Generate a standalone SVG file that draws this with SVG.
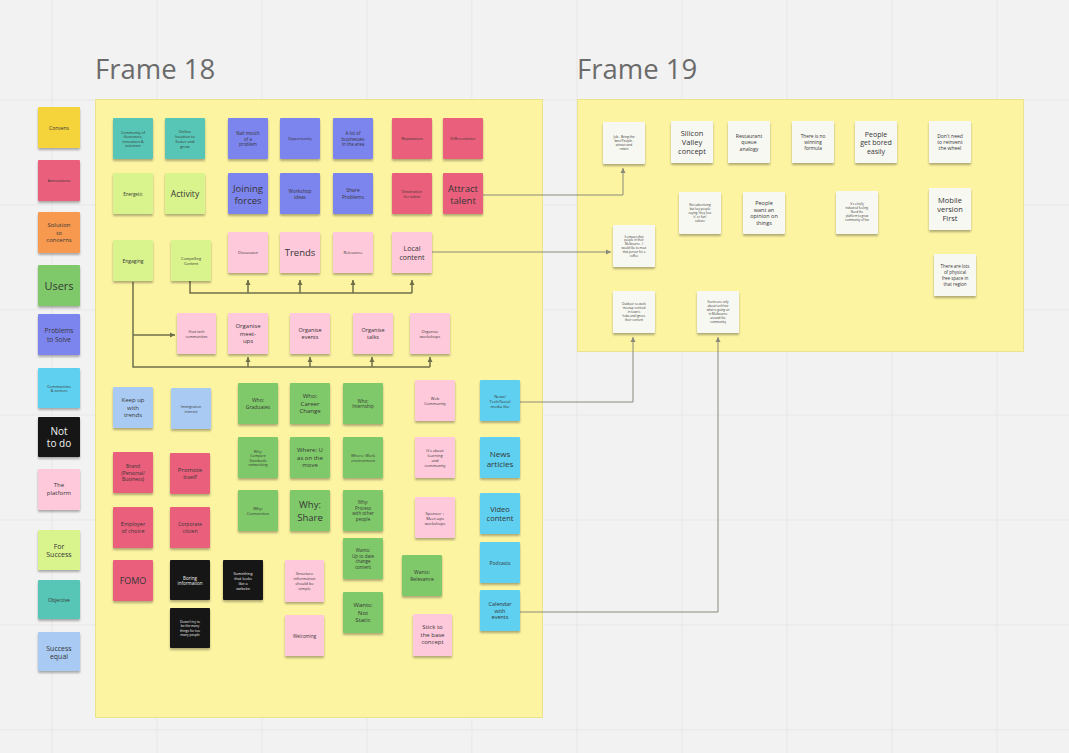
<svg xmlns="http://www.w3.org/2000/svg" width="1069" height="753" viewBox="0 0 1069 753">
<defs>
<filter id="sh" x="-20%" y="-20%" width="140%" height="150%"><feDropShadow dx="0" dy="2" stdDeviation="1.2" flood-color="#000" flood-opacity="0.3"/></filter>
<marker id="ah" markerWidth="6" markerHeight="6" refX="5" refY="3" orient="auto" markerUnits="userSpaceOnUse"><path d="M0,0.5 L5,3 L0,5.5 Z" fill="#6f6f4a"/></marker>
<marker id="ag" markerWidth="6" markerHeight="6" refX="5" refY="3" orient="auto" markerUnits="userSpaceOnUse"><path d="M0,0.5 L5,3 L0,5.5 Z" fill="#8a8a7a"/></marker>
</defs>
<style>
.n{filter:url(#sh);rx:1}
.y{fill:#f5d33a}.r{fill:#ea5e7b}.o{fill:#f79a4f}.g{fill:#80c96a}.b{fill:#7c84ee}.c{fill:#5fd0f0}.k{fill:#151515}.p{fill:#ffc9dc}.l{fill:#d9f38d}.t{fill:#58c6b6}.lb{fill:#a9cbf3}.w{fill:#f8f8f3}
text{font-family:"Open Sans","Liberation Sans",sans-serif;fill:#353535;text-anchor:middle;dominant-baseline:central}
.wt{fill:#f2f2f2}
.title{font-size:27.5px;fill:#6b6b6b;text-anchor:start;dominant-baseline:alphabetic}
.frame{fill:#fcf4a1;stroke:#ece38f;stroke-width:1}
.grid{stroke:#e7e7e7;stroke-width:1}
.cn{fill:none;stroke:#6f6f4a;stroke-width:1.5}
.cg{fill:none;stroke:#8a8a7a;stroke-width:1}
</style>
<rect width="1069" height="753" fill="#f2f2f2"/>
<g id="grid" class="grid">
<line x1="52" y1="0" x2="52" y2="753"/><line x1="157" y1="0" x2="157" y2="753"/><line x1="262" y1="0" x2="262" y2="753"/><line x1="367" y1="0" x2="367" y2="753"/><line x1="472" y1="0" x2="472" y2="753"/><line x1="577" y1="0" x2="577" y2="753"/><line x1="682" y1="0" x2="682" y2="753"/><line x1="787" y1="0" x2="787" y2="753"/><line x1="892" y1="0" x2="892" y2="753"/><line x1="997" y1="0" x2="997" y2="753"/>
<line x1="0" y1="100" x2="1069" y2="100"/><line x1="0" y1="205" x2="1069" y2="205"/><line x1="0" y1="310" x2="1069" y2="310"/><line x1="0" y1="415" x2="1069" y2="415"/><line x1="0" y1="520" x2="1069" y2="520"/><line x1="0" y1="625" x2="1069" y2="625"/><line x1="0" y1="730" x2="1069" y2="730"/>
</g>
<g id="frame18"><text class="title" x="95" y="79">Frame 18</text><rect class="frame" x="95.5" y="99.5" width="447" height="618"/></g>
<g id="frame19"><text class="title" x="577" y="79">Frame 19</text><rect class="frame" x="577.5" y="99.5" width="446" height="252"/></g>

<g id="legend">
<g id="l1"><rect class="n y" x="38" y="107" width="42" height="41"/><text x="59" y="127.5" font-size="5">Consens</text></g>
<g id="l2"><rect class="n r" x="38" y="160" width="42" height="41"/><text x="59" y="180" font-size="4">Annotations</text></g>
<g id="l3"><rect class="n o" x="38" y="212" width="42" height="41"/><text x="59" y="225" font-size="6"><tspan x="59">Solution</tspan><tspan x="59" dy="7.5">to</tspan><tspan x="59" dy="7.5">concerns</tspan></text></g>
<g id="l4"><rect class="n g" x="38" y="265" width="42" height="41"/><text x="59" y="285" font-size="11">Users</text></g>
<g id="l5"><rect class="n b" x="38" y="314" width="42" height="41"/><text x="59" y="330.4" font-size="6.5"><tspan x="59">Problems</tspan><tspan x="59" dy="8.1">to Solve</tspan></text></g>
<g id="l6"><rect class="n c" x="38" y="368" width="42" height="40"/><text x="59" y="385.6" font-size="3.8"><tspan x="59">Communities</tspan><tspan x="59" dy="4.8">&amp; sectors</tspan></text></g>
<g id="l7"><rect class="n k" x="38" y="417" width="42" height="40"/><text class="wt" x="59" y="431" font-size="10"><tspan x="59">Not</tspan><tspan x="59" dy="12">to do</tspan></text></g>
<g id="l8"><rect class="n p" x="38" y="469" width="42" height="41"/><text x="59" y="485.2" font-size="6"><tspan x="59">The</tspan><tspan x="59" dy="7.5">platform</tspan></text></g>
<g id="l9"><rect class="n l" x="38" y="530" width="42" height="40"/><text x="59" y="545.6" font-size="7"><tspan x="59">For</tspan><tspan x="59" dy="8.7">Success</tspan></text></g>
<g id="l10"><rect class="n t" x="38" y="580" width="42" height="39"/><text x="59" y="600" font-size="5">Objective</text></g>
<g id="l11"><rect class="n lb" x="38" y="632" width="42" height="39"/><text x="59" y="647.6" font-size="7"><tspan x="59">Success</tspan><tspan x="59" dy="8.7">equal</tspan></text></g>
</g>

<g id="connectors">
<path class="cn" d="M190,281 V293 H412"/>
<path class="cn" d="M248,293 V280" marker-end="url(#ah)"/>
<path class="cn" d="M300,293 V280" marker-end="url(#ah)"/>
<path class="cn" d="M353,293 V280" marker-end="url(#ah)"/>
<path class="cn" d="M412,293 V280" marker-end="url(#ah)"/>
<path class="cn" d="M133,282 V367 H430"/>
<path class="cn" d="M133,335 H175" marker-end="url(#ah)"/>
<path class="cn" d="M248,367 V357" marker-end="url(#ah)"/>
<path class="cn" d="M310,367 V357" marker-end="url(#ah)"/>
<path class="cn" d="M372,367 V357" marker-end="url(#ah)"/>
<path class="cn" d="M430,367 V357" marker-end="url(#ah)"/>
<path class="cg" d="M483,195 H623 V168" marker-end="url(#ag)"/>
<path class="cg" d="M432,252 H611" marker-end="url(#ag)"/>
<path class="cg" d="M520,402 H633 V337" marker-end="url(#ag)"/>
<path class="cg" d="M520,612 H718 V337" marker-end="url(#ag)"/>
</g>

<g id="f18-row1">
<g id="n1"><rect class="n t" x="113" y="118" width="40" height="41"/><text x="133" y="131.6" font-size="3.6"><tspan x="133">Community of</tspan><tspan x="133" dy="4.6">illustrators,</tspan><tspan x="133" dy="4.6">innovators &amp;</tspan><tspan x="133" dy="4.6">volunteer</tspan></text></g>
<g id="n2"><rect class="n t" x="165" y="118" width="40" height="41"/><text x="185" y="131" font-size="4"><tspan x="185">Online</tspan><tspan x="185" dy="5">location to</tspan><tspan x="185" dy="5">foster and</tspan><tspan x="185" dy="5">grow</tspan></text></g>
<g id="n3"><rect class="n b" x="228" y="118" width="40" height="41"/><text x="248" y="132.9" font-size="4.5"><tspan x="248">Nail mouth</tspan><tspan x="248" dy="5.6">of a</tspan><tspan x="248" dy="5.6">problem</tspan></text></g>
<g id="n4"><rect class="n b" x="280" y="118" width="40" height="41"/><text x="300" y="138.5" font-size="4.2">Opportunity</text></g>
<g id="n5"><rect class="n b" x="333" y="118" width="40" height="41"/><text x="353" y="132.9" font-size="4.5"><tspan x="353">A lot of</tspan><tspan x="353" dy="5.6">businesses</tspan><tspan x="353" dy="5.6">in the area</tspan></text></g>
<g id="n6"><rect class="n r" x="392" y="118" width="40" height="41"/><text x="412" y="138.5" font-size="4.2">Reputation</text></g>
<g id="n7"><rect class="n r" x="443" y="118" width="40" height="41"/><text x="463" y="138.5" font-size="4">Differentiator</text></g>
</g>

<g id="f18-row2">
<g id="n8"><rect class="n l" x="113" y="173" width="40" height="41"/><text x="133" y="193.5" font-size="4.5">Energetic</text></g>
<g id="n9"><rect class="n l" x="165" y="173" width="40" height="41"/><text x="185" y="193.5" font-size="8.5">Activity</text></g>
<g id="n10"><rect class="n b" x="228" y="173" width="40" height="41"/><text x="248" y="187.5" font-size="9.5"><tspan x="248">Joining</tspan><tspan x="248" dy="12">forces</tspan></text></g>
<g id="n11"><rect class="n b" x="280" y="173" width="40" height="41"/><text x="300" y="190.5" font-size="4.8"><tspan x="300">Workshop</tspan><tspan x="300" dy="6">ideas</tspan></text></g>
<g id="n12"><rect class="n b" x="333" y="173" width="40" height="41"/><text x="353" y="190.4" font-size="5"><tspan x="353">Share</tspan><tspan x="353" dy="6.2">Problems</tspan></text></g>
<g id="n13"><rect class="n r" x="392" y="173" width="40" height="41"/><text x="412" y="191.1" font-size="3.8"><tspan x="412">Destination</tspan><tspan x="412" dy="4.8">for talent</tspan></text></g>
<g id="n14"><rect class="n r" x="443" y="173" width="40" height="41"/><text x="463" y="187.5" font-size="9.5"><tspan x="463">Attract</tspan><tspan x="463" dy="12">talent</tspan></text></g>
</g>

<g id="f18-row3">
<g id="n15"><rect class="n l" x="113" y="240" width="40" height="41"/><text x="133" y="260.5" font-size="5">Engaging</text></g>
<g id="n16"><rect class="n l" x="171" y="240" width="40" height="41"/><text x="191" y="258.1" font-size="3.8"><tspan x="191">Compelling</tspan><tspan x="191" dy="4.8">Content</tspan></text></g>
<g id="n17"><rect class="n p" x="228" y="232" width="40" height="41"/><text x="248" y="252.5" font-size="4">Discussion</text></g>
<g id="n18"><rect class="n p" x="280" y="232" width="40" height="41"/><text x="300" y="252.5" font-size="9.5">Trends</text></g>
<g id="n19"><rect class="n p" x="333" y="232" width="40" height="41"/><text x="353" y="252.5" font-size="4">Relevance</text></g>
<g id="n20"><rect class="n p" x="392" y="232" width="40" height="41"/><text x="412" y="248.2" font-size="7"><tspan x="412">Local</tspan><tspan x="412" dy="8.5">content</tspan></text></g>
</g>

<g id="f18-row4">
<g id="n21"><rect class="n p" x="177" y="313" width="39" height="41"/><text x="196.5" y="331.2" font-size="3.6"><tspan x="196.5">Host tech</tspan><tspan x="196.5" dy="4.6">communities</tspan></text></g>
<g id="n22"><rect class="n p" x="228" y="313" width="40" height="41"/><text x="248" y="326.1" font-size="6"><tspan x="248">Organise</tspan><tspan x="248" dy="7.4">meet-</tspan><tspan x="248" dy="7.4">ups</tspan></text></g>
<g id="n23"><rect class="n p" x="290" y="313" width="40" height="41"/><text x="310" y="330.1" font-size="5.5"><tspan x="310">Organise</tspan><tspan x="310" dy="6.8">events</tspan></text></g>
<g id="n24"><rect class="n p" x="353" y="313" width="40" height="41"/><text x="373" y="330.1" font-size="5.5"><tspan x="373">Organise</tspan><tspan x="373" dy="6.8">talks</tspan></text></g>
<g id="n25"><rect class="n p" x="410" y="313" width="40" height="41"/><text x="430" y="331" font-size="4"><tspan x="430">Organise</tspan><tspan x="430" dy="5">workshops</tspan></text></g>
</g>

<g id="f18-lower-left">
<g id="n26"><rect class="n lb" x="113" y="387" width="40" height="41"/><text x="133" y="400.1" font-size="6"><tspan x="133">Keep up</tspan><tspan x="133" dy="7.4">with</tspan><tspan x="133" dy="7.4">trends</tspan></text></g>
<g id="n27"><rect class="n lb" x="171" y="388" width="40" height="41"/><text x="191" y="406.2" font-size="3.6"><tspan x="191">Immigration</tspan><tspan x="191" dy="4.6">interest</tspan></text></g>
<g id="n28"><rect class="n r" x="113" y="452" width="40" height="41"/><text x="133" y="466.3" font-size="5"><tspan x="133">Brand</tspan><tspan x="133" dy="6.2">(Personal/</tspan><tspan x="133" dy="6.2">Business)</tspan></text></g>
<g id="n29"><rect class="n r" x="170" y="453" width="40" height="41"/><text x="190" y="469.8" font-size="6"><tspan x="190">Promote</tspan><tspan x="190" dy="7.4">itself</tspan></text></g>
<g id="n30"><rect class="n r" x="113" y="507" width="40" height="41"/><text x="133" y="524.1" font-size="5.5"><tspan x="133">Employer</tspan><tspan x="133" dy="6.8">of choice</tspan></text></g>
<g id="n31"><rect class="n r" x="170" y="507" width="40" height="41"/><text x="190" y="524.4" font-size="5"><tspan x="190">Corporate</tspan><tspan x="190" dy="6.2">citizen</tspan></text></g>
<g id="n32"><rect class="n r" x="113" y="560" width="40" height="41"/><text x="133" y="580.5" font-size="9">FOMO</text></g>
<g id="n33"><rect class="n k" x="170" y="560" width="40" height="40"/><text class="wt" x="190" y="577.7" font-size="4.5"><tspan x="190">Boring</tspan><tspan x="190" dy="5.6">information</tspan></text></g>
<g id="n34"><rect class="n k" x="223" y="560" width="40" height="40"/><text class="wt" x="243" y="573.3" font-size="3.8"><tspan x="243">Something</tspan><tspan x="243" dy="4.8">that looks</tspan><tspan x="243" dy="4.8">like a</tspan><tspan x="243" dy="4.8">website</tspan></text></g>
<g id="n35"><rect class="n k" x="170" y="608" width="40" height="40"/><text class="wt" x="190" y="622.2" font-size="3.2"><tspan x="190">Doesn't try to</tspan><tspan x="190" dy="4.2">be the many</tspan><tspan x="190" dy="4.2">things for too</tspan><tspan x="190" dy="4.2">many people</tspan></text></g>
</g>

<g id="f18-users">
<g id="n36"><rect class="n g" x="238" y="383" width="40" height="41"/><text x="258" y="400.4" font-size="5"><tspan x="258">Who:</tspan><tspan x="258" dy="6.2">Graduates</tspan></text></g>
<g id="n37"><rect class="n g" x="290" y="383" width="40" height="41"/><text x="310" y="396.1" font-size="6"><tspan x="310">Who:</tspan><tspan x="310" dy="7.4">Career</tspan><tspan x="310" dy="7.4">Change</tspan></text></g>
<g id="n38"><rect class="n g" x="343" y="383" width="40" height="41"/><text x="363" y="400.7" font-size="4.5"><tspan x="363">Who:</tspan><tspan x="363" dy="5.6">Internship</tspan></text></g>
<g id="n39"><rect class="n g" x="238" y="437" width="40" height="41"/><text x="258" y="450.6" font-size="3.6"><tspan x="258">Why:</tspan><tspan x="258" dy="4.6">Compare</tspan><tspan x="258" dy="4.6">Standards</tspan><tspan x="258" dy="4.6">networking</tspan></text></g>
<g id="n40"><rect class="n g" x="290" y="437" width="40" height="41"/><text x="310" y="450.1" font-size="6"><tspan x="310">Where: U</tspan><tspan x="310" dy="7.4">as on the</tspan><tspan x="310" dy="7.4">move</tspan></text></g>
<g id="n41"><rect class="n g" x="343" y="437" width="40" height="41"/><text x="363" y="455" font-size="4"><tspan x="363">Where: Work</tspan><tspan x="363" dy="5">environment</tspan></text></g>
<g id="n42"><rect class="n g" x="238" y="490" width="40" height="41"/><text x="258" y="507.9" font-size="4.2"><tspan x="258">Why:</tspan><tspan x="258" dy="5.2">Connection</tspan></text></g>
<g id="n43"><rect class="n g" x="290" y="490" width="40" height="41"/><text x="310" y="504.25" font-size="9.5"><tspan x="310">Why:</tspan><tspan x="310" dy="12.5">Share</tspan></text></g>
<g id="n44"><rect class="n g" x="343" y="490" width="40" height="41"/><text x="363" y="502.1" font-size="4.5"><tspan x="363">Why:</tspan><tspan x="363" dy="5.6">Process</tspan><tspan x="363" dy="5.6">with other</tspan><tspan x="363" dy="5.6">people</tspan></text></g>
<g id="n45"><rect class="n g" x="343" y="538" width="40" height="41"/><text x="363" y="550.1" font-size="4.5"><tspan x="363">Wants:</tspan><tspan x="363" dy="5.6">Up to date</tspan><tspan x="363" dy="5.6">change</tspan><tspan x="363" dy="5.6">content</tspan></text></g>
<g id="n46"><rect class="n g" x="343" y="592" width="40" height="41"/><text x="363" y="605.1" font-size="6"><tspan x="363">Wants:</tspan><tspan x="363" dy="7.4">Not</tspan><tspan x="363" dy="7.4">Static</tspan></text></g>
<g id="n47"><rect class="n g" x="402" y="555" width="40" height="41"/><text x="422" y="572.4" font-size="5"><tspan x="422">Wants:</tspan><tspan x="422" dy="6.2">Relevance</tspan></text></g>
</g>

<g id="f18-platform">
<g id="n48"><rect class="n p" x="285" y="560" width="39" height="42"/><text x="304.5" y="573" font-size="4"><tspan x="304.5">Structure</tspan><tspan x="304.5" dy="5">information</tspan><tspan x="304.5" dy="5">should be</tspan><tspan x="304.5" dy="5">simple</tspan></text></g>
<g id="n49"><rect class="n p" x="285" y="615" width="39" height="41"/><text x="304.5" y="635.5" font-size="4.5">Welcoming</text></g>
<g id="n50"><rect class="n p" x="415" y="380" width="40" height="41"/><text x="435" y="398" font-size="4"><tspan x="435">Web</tspan><tspan x="435" dy="5">Community</tspan></text></g>
<g id="n51"><rect class="n p" x="415" y="437" width="40" height="41"/><text x="435" y="450" font-size="4"><tspan x="435">It's about</tspan><tspan x="435" dy="5">learning</tspan><tspan x="435" dy="5">and</tspan><tspan x="435" dy="5">community</tspan></text></g>
<g id="n52"><rect class="n p" x="415" y="497" width="40" height="41"/><text x="435" y="512.5" font-size="4"><tspan x="435">Sponsor +</tspan><tspan x="435" dy="5">Meet-ups</tspan><tspan x="435" dy="5">workshops</tspan></text></g>
<g id="n53"><rect class="n p" x="413" y="614" width="39" height="42"/><text x="432.5" y="627.1" font-size="6"><tspan x="432.5">Stick to</tspan><tspan x="432.5" dy="7.4">the base</tspan><tspan x="432.5" dy="7.4">concept</tspan></text></g>
</g>

<g id="f18-content">
<g id="n54"><rect class="n c" x="480" y="380" width="40" height="41"/><text x="500" y="395.5" font-size="4"><tspan x="500">News/</tspan><tspan x="500" dy="5">Tech/Social</tspan><tspan x="500" dy="5">media like</tspan></text></g>
<g id="n55"><rect class="n c" x="480" y="437" width="40" height="41"/><text x="500" y="452.5" font-size="8"><tspan x="500">News</tspan><tspan x="500" dy="10">articles</tspan></text></g>
<g id="n56"><rect class="n c" x="480" y="493" width="40" height="41"/><text x="500" y="508.75" font-size="7.5"><tspan x="500">Video</tspan><tspan x="500" dy="9.5">content</tspan></text></g>
<g id="n57"><rect class="n c" x="480" y="542" width="40" height="41"/><text x="500" y="562.5" font-size="5">Podcasts</text></g>
<g id="n58"><rect class="n c" x="480" y="590" width="40" height="41"/><text x="500" y="603.7" font-size="5.5"><tspan x="500">Calendar</tspan><tspan x="500" dy="6.8">with</tspan><tspan x="500" dy="6.8">events</tspan></text></g>
</g>

<g id="f19-notes">
<g id="m1"><rect class="n w" x="603" y="122" width="42" height="42"/><text x="624" y="136.7" font-size="3.2"><tspan x="624">Job - Bring the</tspan><tspan x="624" dy="4.2">best People -</tspan><tspan x="624" dy="4.2">attract and</tspan><tspan x="624" dy="4.2">retain</tspan></text></g>
<g id="m2"><rect class="n w" x="671" y="121" width="42" height="42"/><text x="692" y="133" font-size="7.5"><tspan x="692">Silicon</tspan><tspan x="692" dy="9">Valley</tspan><tspan x="692" dy="9">concept</tspan></text></g>
<g id="m3"><rect class="n w" x="728" y="121" width="42" height="42"/><text x="749" y="135.5" font-size="5.2"><tspan x="749">Restaurant</tspan><tspan x="749" dy="6.5">queue</tspan><tspan x="749" dy="6.5">analogy</tspan></text></g>
<g id="m4"><rect class="n w" x="792" y="121" width="42" height="42"/><text x="813" y="136" font-size="4.8"><tspan x="813">There is no</tspan><tspan x="813" dy="6">winning</tspan><tspan x="813" dy="6">formula</tspan></text></g>
<g id="m5"><rect class="n w" x="855" y="121" width="42" height="42"/><text x="876" y="133.5" font-size="7"><tspan x="876">People</tspan><tspan x="876" dy="8.5">get bored</tspan><tspan x="876" dy="8.5">easily</tspan></text></g>
<g id="m6"><rect class="n w" x="929" y="121" width="42" height="42"/><text x="950" y="135.7" font-size="5"><tspan x="950">Don't need</tspan><tspan x="950" dy="6.3">to reinvent</tspan><tspan x="950" dy="6.3">the wheel</tspan></text></g>
<g id="m7"><rect class="n w" x="679" y="192" width="42" height="42"/><text x="700" y="205" font-size="3"><tspan x="700">Not advertising</tspan><tspan x="700" dy="4">but key people</tspan><tspan x="700" dy="4">saying 'they love</tspan><tspan x="700" dy="4">it' or fun/</tspan><tspan x="700" dy="4">culture</tspan></text></g>
<g id="m8"><rect class="n w" x="743" y="192" width="42" height="42"/><text x="764" y="202.8" font-size="5.5"><tspan x="764">People</tspan><tspan x="764" dy="6.8">want an</tspan><tspan x="764" dy="6.8">opinion on</tspan><tspan x="764" dy="6.8">things</tspan></text></g>
<g id="m9"><rect class="n w" x="836" y="191" width="42" height="43"/><text x="857" y="204.2" font-size="2.9"><tspan x="857">It's a holly</tspan><tspan x="857" dy="3.9">industrial feeling.</tspan><tspan x="857" dy="3.9">Need the</tspan><tspan x="857" dy="3.9">platform to grow</tspan><tspan x="857" dy="3.9">community of fun</tspan></text></g>
<g id="m10"><rect class="n w" x="929" y="188" width="42" height="42"/><text x="950" y="200" font-size="7.5"><tspan x="950">Mobile</tspan><tspan x="950" dy="9">version</tspan><tspan x="950" dy="9">First</tspan></text></g>
<g id="m11"><rect class="n w" x="613" y="225" width="42" height="42"/><text x="634" y="236.5" font-size="2.9"><tspan x="634">It amazes that</tspan><tspan x="634" dy="3.8">people in their</tspan><tspan x="634" dy="3.8">Melbourne - I</tspan><tspan x="634" dy="3.8">would like to meet</tspan><tspan x="634" dy="3.8">that person for a</tspan><tspan x="634" dy="3.8">coffee</tspan></text></g>
<g id="m12"><rect class="n w" x="613" y="291" width="42" height="42"/><text x="634" y="304" font-size="3"><tspan x="634">Outdoor co-work</tspan><tspan x="634" dy="4">meetup centred</tspan><tspan x="634" dy="4">in town's</tspan><tspan x="634" dy="4">hubs and ignore</tspan><tspan x="634" dy="4">their content</tspan></text></g>
<g id="m13"><rect class="n w" x="697" y="291" width="42" height="42"/><text x="718" y="302" font-size="3"><tspan x="718">Events are only</tspan><tspan x="718" dy="4">about tech/not</tspan><tspan x="718" dy="4">what is going on</tspan><tspan x="718" dy="4">in Melbourne</tspan><tspan x="718" dy="4">around the</tspan><tspan x="718" dy="4">community</tspan></text></g>
<g id="m14"><rect class="n w" x="934" y="254" width="42" height="42"/><text x="955" y="266.3" font-size="4.5"><tspan x="955">There are lots</tspan><tspan x="955" dy="5.8">of physical</tspan><tspan x="955" dy="5.8">free space in</tspan><tspan x="955" dy="5.8">that region</tspan></text></g>
</g>
</svg>
